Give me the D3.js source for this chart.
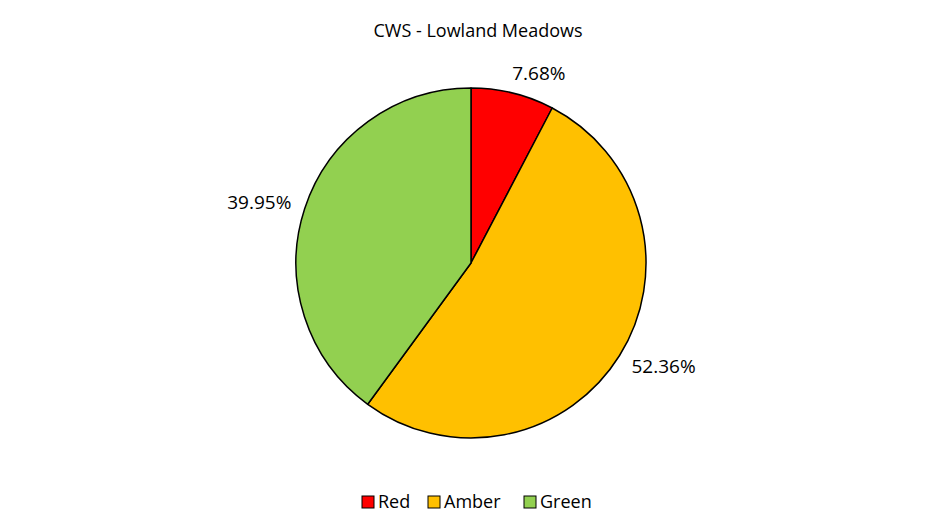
<!DOCTYPE html>
<html>
<head>
<meta charset="utf-8">
<script src="https://cdn.jsdelivr.net/npm/d3@7"></script>
<style>
  body { margin: 0; background: #fff; }
  text { font-family: "Open Sans", "Noto Sans", sans-serif; fill: #000; }
</style>
</head>
<body>
<div id="chart"></div>
<script>
// chart data
var categories = ["Red", "Amber", "Green"];
var values = [7.68, 52.36, 39.95];
var colors = ["#ff0000", "#ffc000", "#92d050"];
var chartTitle = "CWS - Lowland Meadows";

// svg size
var svgWidth = 943;
var svgHeight = 531;

var cx = 471, cy = 263, radius = 175;

var svg = d3.select("#chart")
    .append("svg")
    .attr("width", svgWidth)
    .attr("height", svgHeight);

// title
svg.append("text")
    .attr("x", 478)
    .attr("y", 37)
    .attr("text-anchor", "middle")
    .attr("font-size", 18)
    .text(chartTitle);

var data = categories.map((c, i) => ({ name: c, value: values[i], color: colors[i] }));

var pie = d3.pie()
    .sort(null)
    .value(d => d.value);

var arc = d3.arc()
    .innerRadius(0)
    .outerRadius(radius);

var pieGroup = svg.append("g")
    .attr("transform", `translate(${cx}, ${cy})`);

var arcs = pie(data);

pieGroup.selectAll("path")
    .data(arcs)
    .enter()
    .append("path")
    .attr("d", arc)
    .attr("fill", d => d.data.color)
    .attr("stroke", "#000")
    .attr("stroke-width", 1.5)
    .attr("stroke-linejoin", "round");

// outside-end labels
var labelR = radius + 14;
pieGroup.selectAll(".pctLabel")
    .data(arcs)
    .enter()
    .append("text")
    .classed("pctLabel", true)
    .attr("x", d => {
        var a = (d.startAngle + d.endAngle) / 2;
        return labelR * Math.sin(a) - (a < 0.5 ? 4 : 0);
    })
    .attr("y", d => {
        var a = (d.startAngle + d.endAngle) / 2;
        return -labelR * Math.cos(a) - Math.cos(a) * 6;
    })
    .attr("dy", "0.35em")
    .attr("text-anchor", d => ((d.startAngle + d.endAngle) / 2) < Math.PI ? "start" : "end")
    .attr("font-size", 19)
    .text(d => d.data.value.toFixed(2) + "%");

// legend
var legendX = [362, 428, 524];
var legend = svg.append("g")
    .attr("transform", "translate(0, 502)");

var items = legend.selectAll("g")
    .data(data)
    .enter()
    .append("g")
    .attr("transform", (d, i) => `translate(${legendX[i]}, 0)`);

items.append("rect")
    .attr("x", 0)
    .attr("y", -6)
    .attr("width", 12)
    .attr("height", 12)
    .attr("fill", d => d.color)
    .attr("stroke", "#000")
    .attr("stroke-width", 1);

items.append("text")
    .attr("x", 16)
    .attr("y", 0)
    .attr("dy", "0.35em")
    .attr("font-size", 18)
    .text(d => d.name);
</script>
</body>
</html>
